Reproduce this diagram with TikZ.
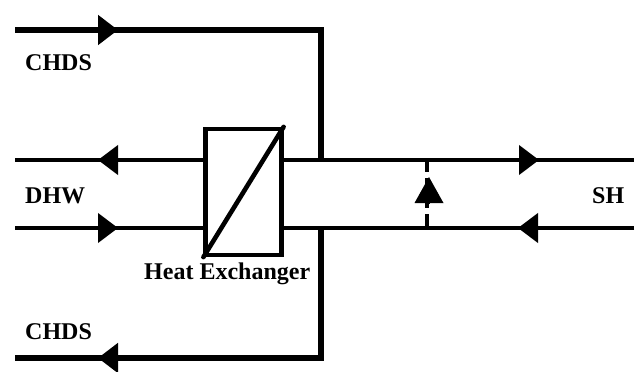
\documentclass[tikz,border=0pt]{standalone}
\usepackage{fontspec}
\setmainfont{Liberation Serif}
\usetikzlibrary{arrows.meta}

\begin{document}
\begin{tikzpicture}[x=1pt,y=-1pt,line join=miter,
  pipe/.style={line width=4.2pt},
  main pipe/.style={line width=5.2pt},
  flow/.style={-{Triangle[length=20pt,width=29pt]}},
  label node/.style={font=\bfseries\fontsize{24}{28}\selectfont,inner sep=0pt,anchor=base west},
  exchanger/.style={draw,line width=4.2pt,minimum width=76pt,minimum height=126pt,inner sep=0pt}]
  \useasboundingbox (0,0) rectangle (638,372);

  \node[exchanger] (HX) at (243.5,192) {};
  \node[label node] (heat) at (144,279) {Heat Exchanger};
  \node[label node] (chdsup) at (25,70) {CHDS};
  \node[label node] (dhw) at (25,203) {DHW};
  \node[label node] (chdslow) at (25,339) {CHDS};
  \node[label node] (sh) at (592,203) {SH};

  % ends of the pipes
  \coordinate (TL) at (15,30);
  \coordinate (TT) at (118,30);
  \coordinate (TC) at (321,30);
  \coordinate (TJ) at (321,160);
  \coordinate (BJ) at (321,228);
  \coordinate (BC) at (321,358);
  \coordinate (BT) at (98,358);
  \coordinate (BL) at (15,358);
  \coordinate (UL) at (15,160);
  \coordinate (UT) at (98,160);
  \coordinate (UH) at (205,160);
  \coordinate (LL) at (15,228);
  \coordinate (LT) at (118,228);
  \coordinate (LH) at (205,228);
  \coordinate (UR) at (282,160);
  \coordinate (UA) at (539,160);
  \coordinate (UE) at (634,160);
  \coordinate (LR) at (282,228);
  \coordinate (LA) at (518,228);
  \coordinate (LE) at (634,228);
  \coordinate (VB) at (427,228);
  \coordinate (VT) at (427,160);
  \coordinate (VS) at (429,203);
  \coordinate (VA) at (429,177);

  % CHDS
  \draw[main pipe] (TL) -- (TC) -- (TJ);
  \draw[main pipe,flow] (TL) -- (TT);
  \draw[main pipe] (BJ) -- (BC) -- (BL);
  \draw[main pipe,flow] (BC) -- (BT);
  % DHW
  \draw[pipe] (UH) -- (UL);
  \draw[pipe,flow] (UH) -- (UT);
  \draw[pipe] (LL) -- (LH);
  \draw[pipe,flow] (LL) -- (LT);
  % SH
  \draw[pipe] (UR) -- (UE);
  \draw[pipe,flow] (UR) -- (UA);
  \draw[pipe] (LE) -- (LR);
  \draw[pipe,flow] (LE) -- (LA);
  % bypass
  \draw[pipe,dash pattern=on 12pt off 6pt] (VT) -- (VB);
  \draw[line width=0pt,-{Triangle[length=26pt,width=29pt]}] (VS) -- (VA);
  \draw[line width=4.6pt,line cap=round] (HX.south west) -- (HX.north east);
\end{tikzpicture}
\end{document}
